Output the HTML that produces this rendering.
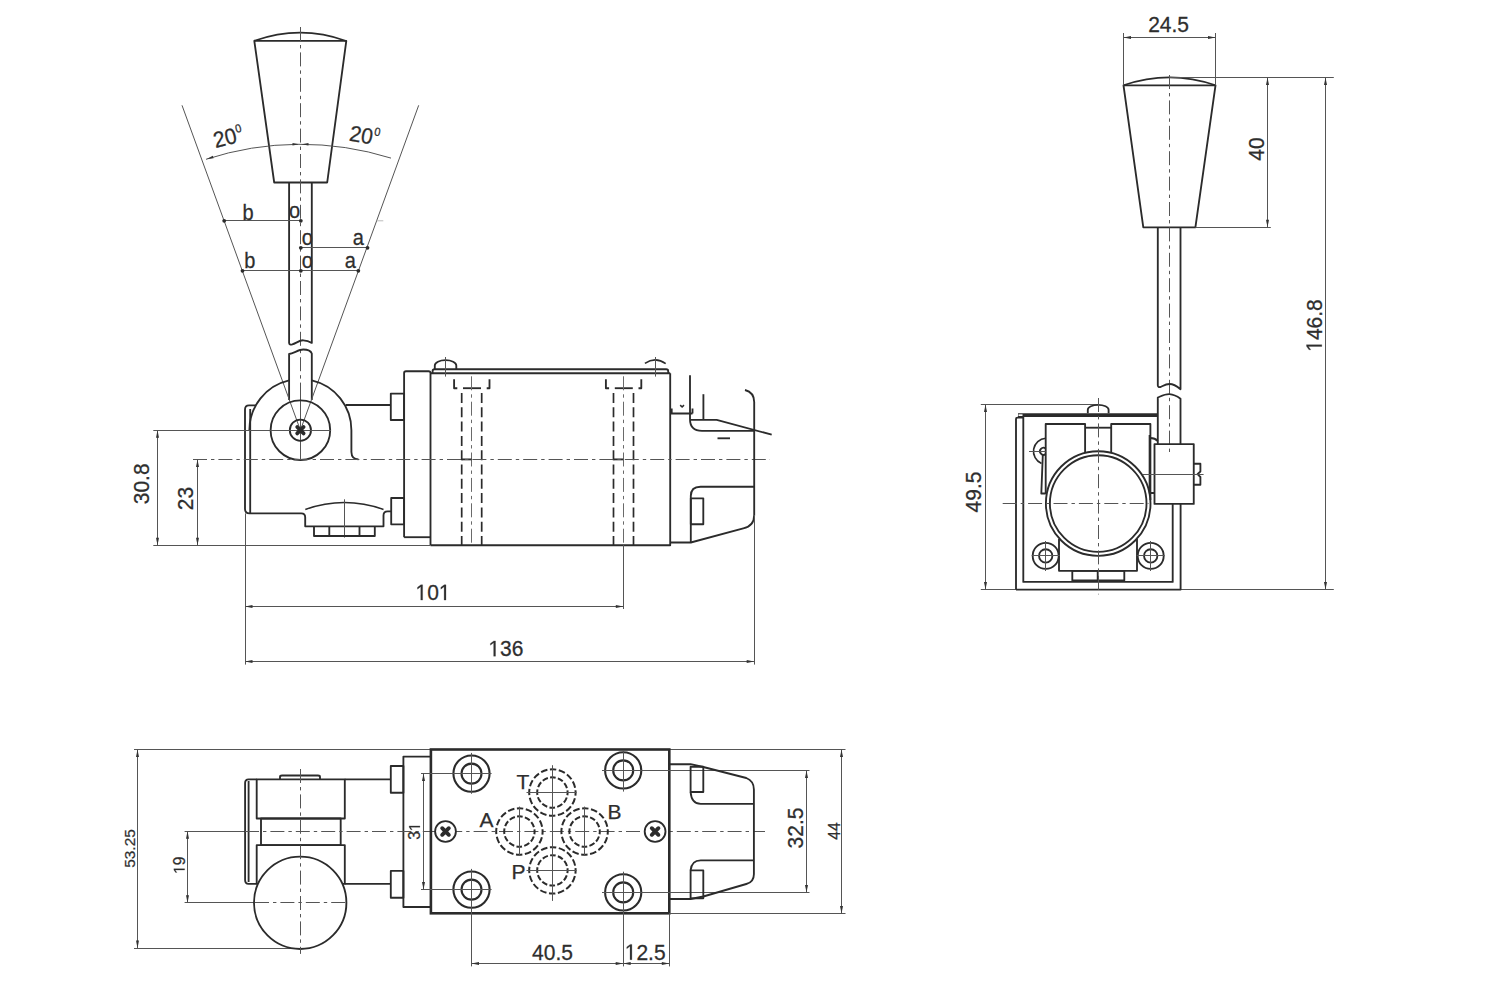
<!DOCTYPE html>
<html><head><meta charset="utf-8"><style>
html,body{margin:0;padding:0;background:#fff;}
body{width:1488px;height:1008px;overflow:hidden;}
svg{display:block;}
.k{fill:none;stroke:#2b2b2b;stroke-width:1.85;stroke-linejoin:round;}
.kf{fill:#fff;stroke:#2b2b2b;stroke-width:1.85;}
.kh{fill:none;stroke:#2b2b2b;stroke-width:2.1;}
.kb{fill:none;stroke:#2b2b2b;stroke-width:2.6;}
.k2{fill:none;stroke:#2b2b2b;stroke-width:1.6;}
.t{fill:none;stroke:#555;stroke-width:1;}
.c{fill:none;stroke:#555;stroke-width:1;stroke-dasharray:14 4 3.4 4;}
.c2{fill:none;stroke:#6a6a6a;stroke-width:1;stroke-dasharray:14 4 3.4 4;}
.h{fill:none;stroke:#2b2b2b;stroke-width:1.7;stroke-dasharray:10 4.3;}
.hp{fill:none;stroke:#2b2b2b;stroke-width:2;}
.hp2{fill:none;stroke:#2b2b2b;stroke-width:1.6;stroke-dasharray:6 3.5;}
.gl{fill:#2e2e2e;stroke:#2e2e2e;stroke-width:0.25;vector-effect:non-scaling-stroke;}
.dot{fill:#2b2b2b;stroke:none;}
.tx{font-family:"Liberation Sans",sans-serif;fill:#2e2e2e;stroke:#2e2e2e;stroke-width:0.25;}
</style></head><body>
<svg width="1488" height="1008" viewBox="0 0 1488 1008">
<rect x="0" y="0" width="1488" height="1008" fill="#fff"/>
<path class="k" d="M254.3,40.8 L346.3,40.9 L327.2,182.5 L274.2,182.5 Z"/>
<path class="k2" d="M254.3,40.8 Q300.3,24.3 346.3,40.9"/>
<path class="c" d="M300.5,27 L300.5,395"/>
<path class="t" d="M300.5,395 L300.5,460"/>
<path class="k" d="M289.1,182.5 V343 Q289.3,345.2 292.3,344.4 C296,343.2 299.5,340.2 303.2,340.3 C307,340.4 309.5,341.4 311.8,342.9 V182.5"/>
<path class="k" d="M289.1,400 V354 C293.5,353.6 298.5,349.5 303.2,349.5 C307,349.5 310.8,350.8 311.8,353.5 V400"/>
<path class="t" d="M300.4,430.2 L182,105.3"/>
<path class="t" d="M300.4,430.2 L418.7,105.3"/>
<path class="t" d="M206,159.3 A304,304 0 0 1 391,158.1"/>
<path fill="#333" stroke="none" d="M206.71,159 L212.78,155.66 L213.58,158.14 Z"/>
<path fill="#333" stroke="none" d="M299.34,144.2 L292.54,145.53 L292.53,142.93 Z"/>
<path fill="#333" stroke="none" d="M301.67,144.2 L308.48,142.93 L308.47,145.53 Z"/>
<path class="t" d="M224.2,220.5 L300.8,220.5"/>
<path class="t" d="M300.8,247.5 L367.5,247.5"/>
<path class="t" d="M242.5,270.5 L358.3,270.5"/>
<path stroke="#bbb" stroke-width="1" d="M376.7,220.8 H383.3"/>
<circle class="dot" cx="224.2" cy="220.8" r="1.9"/>
<circle class="dot" cx="300.8" cy="220.8" r="1.9"/>
<circle class="dot" cx="300.8" cy="247.8" r="1.9"/>
<circle class="dot" cx="367.5" cy="247.8" r="1.9"/>
<circle class="dot" cx="242.5" cy="270.8" r="1.9"/>
<circle class="dot" cx="300.8" cy="270.8" r="1.9"/>
<circle class="dot" cx="358.3" cy="270.8" r="1.9"/>
<text class="tx" transform="translate(248,220) scale(1,1.06)" x="0" y="0" font-size="20" text-anchor="middle">b</text>
<text class="tx" transform="translate(294.5,218.3) scale(1,1.06)" x="0" y="0" font-size="20" text-anchor="middle">o</text>
<text class="tx" transform="translate(307.3,245) scale(1,1.06)" x="0" y="0" font-size="20" text-anchor="middle">o</text>
<text class="tx" transform="translate(358.3,245) scale(1,1.06)" x="0" y="0" font-size="20" text-anchor="middle">a</text>
<text class="tx" transform="translate(249.8,267.5) scale(1,1.06)" x="0" y="0" font-size="20" text-anchor="middle">b</text>
<text class="tx" transform="translate(307.3,268.3) scale(1,1.06)" x="0" y="0" font-size="20" text-anchor="middle">o</text>
<text class="tx" transform="translate(350.4,268.3) scale(1,1.06)" x="0" y="0" font-size="20" text-anchor="middle">a</text>
<text class="tx" transform="translate(215.5,148) rotate(-14) scale(1,1.06)" font-size="21">20<tspan font-size="11" dx="0.5" dy="-9">0</tspan></text>
<text class="tx" transform="translate(348.5,140.5) rotate(10) scale(1,1.06)" font-size="21">20<tspan font-size="11" dx="0.5" dy="-9">0</tspan></text>
<path class="k" d="M249.4,430.2 A51,51 0 0 1 289.1,380.4"/>
<path class="k" d="M311.8,380.4 A51,51 0 0 1 351.4,430.2 V452 Q351.6,459.4 358.5,459.4"/>
<path class="k" d="M256,405.3 H249 Q245,405.3 245,409.5 V509 Q245,513.4 249.5,513.4 H301.3 Q305.2,513.4 305.2,517.5 V526.3 H383.5 V515.5 Q383.5,511.4 387.6,511.4 H391.2"/>
<path class="k" d="M250.2,409 V513.4"/>
<circle class="k" cx="300.4" cy="430.2" r="29.8"/>
<circle class="k" cx="300.4" cy="430.2" r="10.6"/>
<path class="t" d="M153.3,430.5 L331,430.5"/>
<path stroke="#2b2b2b" stroke-width="3.8" stroke-linecap="round" fill="none" d="M297.2,427 L303.6,433.4 M303.6,427 L297.2,433.4"/>
<path class="k" d="M345.8,405 H390.8"/>
<rect class="k" x="390.8" y="393.6" width="13.3" height="26.4"/>
<rect class="k" x="391.2" y="498" width="12.9" height="26.3"/>
<path class="k" d="M404.1,537.2 V373 Q404.1,371.2 406,371.2 H428.6 Q430.5,371.2 430.5,373 V545.2"/>
<path class="k" d="M430.5,373.2 H670.2"/>
<path class="k" d="M432.6,373.2 V371 Q432.6,369.2 434.6,369.2 H666.2 Q668.2,369.2 668.2,371 V373.2"/>
<path class="k" d="M670.2,373.2 V545.2 H430.5"/>
<path class="k" d="M404.1,537.2 H430.5"/>
<path class="k2" d="M305.3,509.4 Q344.4,495.6 383.5,509.4"/>
<path class="t" d="M344.5,499.3 L344.5,537.6"/>
<path class="k" d="M314,526.3 V536 H374.8 V526.3 M329.3,526.3 V536 M359.5,526.3 V536"/>
<path class="k" d="M434.8,369.2 V365.5 A10.75,5.3 0 0 1 456.3,365.5 V369.2"/>
<path class="t" d="M445.5,357 L445.5,376.6"/>
<path class="k2" d="M644.9,363.4 Q655.5,356.3 665.7,363.7"/>
<path class="t" d="M655.5,357 L655.5,376.6"/>
<path class="k" d="M454.1,379.3 V388.2 H457.3"/>
<path class="k" d="M463,388.2 H481"/>
<path class="k" d="M486.7,388.2 H489.5 V379.3"/>
<path class="h" d="M461.7,393 V545"/>
<path class="h" d="M481.7,393 V545"/>
<path class="c2" d="M471.5,376.3 L471.5,545"/>
<path class="k" d="M461.7,459.4 L471.5,459.4"/>
<path class="k" d="M605.9,379.3 V388.2 H609.1"/>
<path class="k" d="M614.8,388.2 H632.8"/>
<path class="k" d="M638.5,388.2 H641.3 V379.3"/>
<path class="h" d="M613.5,393 V545"/>
<path class="h" d="M633.5,393 V545"/>
<path class="c2" d="M623.5,376.3 L623.5,545"/>
<path class="k" d="M613.5,459.4 L623.3,459.4"/>
<path class="t" d="M623.5,545 L623.5,609"/>
<path class="c" d="M193,459.5 L770,459.5"/>
<path class="k" d="M670.2,413.5 H692.5 M671.7,408.6 V413.5 M692.5,408.6 V413.5"/>
<path class="k2" d="M680.2,405.2 L682.1,407 L684,405.2"/>
<path class="k" d="M690,375.3 V419 Q690,430.9 702,430.9 H754.2"/>
<path class="k" d="M703.4,394.2 V419.7"/>
<path class="k" d="M690,419.8 H716.7 L771.7,434.7"/>
<path class="k" d="M717.5,438.3 H730"/>
<path class="k" d="M745,390 Q754.2,392.5 754.2,402 V515 Q754.2,526 743.3,528.3 L690.8,542.5 H670.2"/>
<path class="k" d="M690.8,542.5 V496 Q690.8,486.7 700.5,486.7 H754.2"/>
<rect class="k" x="690.8" y="498.3" width="12.5" height="25.9"/>
<path class="t" d="M245.5,513.4 L245.5,664.6"/>
<path class="t" d="M754.5,515 L754.5,664.6"/>
<path class="t" d="M245,606.5 L623.3,606.5"/>
<path fill="#333" stroke="none" d="M245,606.5 L252.5,605 L252.5,608 Z"/>
<path fill="#333" stroke="none" d="M623.3,606.5 L615.8,608 L615.8,605 Z"/>
<path class="t" d="M245,661.5 L754.2,661.5"/>
<path fill="#333" stroke="none" d="M245,661.5 L252.5,660 L252.5,663 Z"/>
<path fill="#333" stroke="none" d="M754.2,661.5 L746.7,663 L746.7,660 Z"/>
<g transform="translate(433,600.1) scale(1,1.06)"><text class="tx" x="0" y="0" font-size="21" text-anchor="middle">&#x2007;0&#x2007;</text><path class="gl" transform="translate(-17.52,0) scale(0.01025,-0.01025)" d="M515,0 L515,1237 L197,1010 L197,1180 L530,1409 L696,1409 L696,0 Z"/><path class="gl" transform="translate(5.84,0) scale(0.01025,-0.01025)" d="M515,0 L515,1237 L197,1010 L197,1180 L530,1409 L696,1409 L696,0 Z"/></g>
<g transform="translate(505.9,656.2) scale(1,1.06)"><text class="tx" x="0" y="0" font-size="21" text-anchor="middle">&#x2007;36</text><path class="gl" transform="translate(-17.52,0) scale(0.01025,-0.01025)" d="M515,0 L515,1237 L197,1010 L197,1180 L530,1409 L696,1409 L696,0 Z"/></g>
<path class="t" d="M153.3,545.5 L430.5,545.5"/>
<path class="t" d="M157.5,430.2 L157.5,545.2"/>
<path fill="#333" stroke="none" d="M157.5,430.2 L159,437.7 L156,437.7 Z"/>
<path fill="#333" stroke="none" d="M157.5,545.2 L156,537.7 L159,537.7 Z"/>
<path class="t" d="M197.5,459.4 L197.5,545.2"/>
<path fill="#333" stroke="none" d="M197.5,459.4 L199,466.9 L196,466.9 Z"/>
<path fill="#333" stroke="none" d="M197.5,545.2 L196,537.7 L199,537.7 Z"/>
<text class="tx" transform="translate(149.2,483.8) rotate(-90) scale(1,1.06)" x="0" y="0" font-size="21" text-anchor="middle">30.8</text>
<text class="tx" transform="translate(193.3,498.5) rotate(-90) scale(1,1.06)" x="0" y="0" font-size="21" text-anchor="middle">23</text>
<path class="k" d="M1123.5,85.3 L1215.5,85.3 L1195.4,227.3 L1143.3,227.3 Z"/>
<path class="k2" d="M1123.5,85.3 Q1169.5,69.5 1215.5,85.3"/>
<path class="c" d="M1169.5,75 L1169.5,453.5"/>
<path class="k" d="M1157.8,227.3 V385.5 Q1158,387.6 1160.5,387 C1163.5,385.6 1166,384 1169.5,384 C1173.5,384 1177,386.3 1180.5,389.2 V227.3"/>
<path class="k" d="M1157.8,444.1 V397.5 C1161,396.2 1165,394 1169.5,394.2 C1174,394.5 1177,396.2 1180.5,398.8 V444.1"/>
<path class="t" d="M1123.5,33 L1123.5,85.3"/>
<path class="t" d="M1215.5,33 L1215.5,85.3"/>
<path class="t" d="M1123.5,37.5 L1215.5,37.5"/>
<path fill="#333" stroke="none" d="M1123.5,37.5 L1131,36 L1131,39 Z"/>
<path fill="#333" stroke="none" d="M1215.5,37.5 L1208,39 L1208,36 Z"/>
<text class="tx" transform="translate(1168.6,32.4) scale(1,1.06)" x="0" y="0" font-size="21" text-anchor="middle">24.5</text>
<path class="t" d="M1169.3,77.5 L1333.8,77.5"/>
<path class="t" d="M1195.4,227.5 L1270.8,227.5"/>
<path class="t" d="M1267.5,77.4 L1267.5,227.3"/>
<path fill="#333" stroke="none" d="M1267.5,77.4 L1269,84.9 L1266,84.9 Z"/>
<path fill="#333" stroke="none" d="M1267.5,227.3 L1266,219.8 L1269,219.8 Z"/>
<path class="t" d="M1325.5,77.4 L1325.5,589.6"/>
<path fill="#333" stroke="none" d="M1325.5,77.4 L1327,84.9 L1324,84.9 Z"/>
<path fill="#333" stroke="none" d="M1325.5,589.6 L1324,582.1 L1327,582.1 Z"/>
<text class="tx" transform="translate(1263.9,149) rotate(-90) scale(1,1.06)" x="0" y="0" font-size="21" text-anchor="middle">40</text>
<g transform="translate(1321.8,325.5) rotate(-90) scale(1,1.06)"><text class="tx" x="0" y="0" font-size="21" text-anchor="middle">&#x2007;46.8</text><path class="gl" transform="translate(-26.28,0) scale(0.01025,-0.01025)" d="M515,0 L515,1237 L197,1010 L197,1180 L530,1409 L696,1409 L696,0 Z"/></g>
<path class="t" d="M980.8,404.5 L1098,404.5"/>
<path class="t" d="M980.8,589.5 L1333.8,589.5"/>
<path class="t" d="M985.5,404.5 L985.5,589.6"/>
<path fill="#333" stroke="none" d="M985.5,404.5 L987,412 L984,412 Z"/>
<path fill="#333" stroke="none" d="M985.5,589.6 L984,582.1 L987,582.1 Z"/>
<text class="tx" transform="translate(980.8,492) rotate(-90) scale(1,1.06)" x="0" y="0" font-size="21" text-anchor="middle">49.5</text>
<path class="k" d="M1016,589.6 V419 Q1016,417.6 1017.4,417.6 H1023.3 M1016,589.6 H1180.6 V504"/>
<path fill="#2b2b2b" stroke="none" d="M1018,413.2 H1157.8 V417 H1018 Z"/>
<path fill="#fff" stroke="none" d="M1018.5,414.3 H1022.5 V416 H1018.5 Z"/>
<path class="k" d="M1023.3,417 V581.9 H1172.7 V504"/>
<path class="k" d="M1087.8,413.3 V409.8 A10.4,5 0 0 1 1108.6,409.8 V413.3"/>
<path class="k" d="M1045.7,494 V424 H1085.1 V452"/>
<path class="k" d="M1085.1,427.7 H1111.2"/>
<path class="k" d="M1111.2,452 V424 H1150.4 V500"/>
<circle class="k" cx="1098.2" cy="503.5" r="52.3"/>
<circle class="k" cx="1098.2" cy="503.5" r="48.3"/>
<path class="k2" d="M1045.7,438.2 A13.2,13.2 0 0 0 1041.5,463.5"/>
<path class="k" d="M1045.7,448.6 A3.5,3.5 0 1 0 1045.7,454"/>
<path class="t" d="M1029,451.5 L1045.7,451.5"/>
<path class="k" d="M1042.8,455 L1041.3,493.5 H1045.7"/>
<path class="k" d="M1059,539 V570.8 H1137 V539"/>
<rect class="k" x="1072.3" y="570.8" width="52" height="9.7"/>
<path class="k" d="M1097.7,570.8 V580.5"/>
<circle class="k" cx="1045.7" cy="555.9" r="13"/>
<circle class="k" cx="1045.7" cy="555.9" r="6.65"/>
<path class="t" d="M1031.7,555.5 L1059.7,555.5"/>
<path class="t" d="M1045.5,541 L1045.5,571"/>
<circle class="k" cx="1150.7" cy="555.9" r="13"/>
<circle class="k" cx="1150.7" cy="555.9" r="6.65"/>
<path class="t" d="M1136.7,555.5 L1164.7,555.5"/>
<path class="t" d="M1150.5,541 L1150.5,571"/>
<rect class="k" x="1154.5" y="444.1" width="39.25" height="59.8"/>
<path class="k" d="M1149.6,435 V493 H1154.5"/>
<path class="k" d="M1150.4,438 Q1155,438 1157.8,441"/>
<path class="k" d="M1193.75,463.75 H1200.4 V471.5 L1197.5,474.2 L1200.4,477 V484.7 H1193.75"/>
<path class="t" d="M1142.9,474.5 L1203.6,474.5"/>
<path class="c" d="M1002.7,503.5 L1148.5,503.5"/>
<path class="c" d="M1098.5,398 L1098.5,594.4"/>
<path class="t" d="M134,749.5 L845.5,749.5"/>
<path class="t" d="M134,948.5 L292,948.5"/>
<path class="t" d="M137.5,749.5 L137.5,948"/>
<path fill="#333" stroke="none" d="M137.5,749.5 L139,757 L136,757 Z"/>
<path fill="#333" stroke="none" d="M137.5,948 L136,940.5 L139,940.5 Z"/>
<text class="tx" transform="translate(134.6,848.5) rotate(-90) scale(1,1)" x="0" y="0" font-size="15.4" text-anchor="middle">53.25</text>
<path class="t" d="M184.6,831.5 L245,831.5"/>
<path class="t" d="M184.6,902.5 L255,902.5"/>
<path class="t" d="M187.5,831.2 L187.5,902.8"/>
<path fill="#333" stroke="none" d="M187.5,831.2 L189,838.7 L186,838.7 Z"/>
<path fill="#333" stroke="none" d="M187.5,902.8 L186,895.3 L189,895.3 Z"/>
<g transform="translate(184.6,865.3) rotate(-90) scale(1,1)"><text class="tx" x="0" y="0" font-size="15.6" text-anchor="middle">&#x2007;9</text><path class="gl" transform="translate(-8.68,0) scale(0.00762,-0.00762)" d="M515,0 L515,1237 L197,1010 L197,1180 L530,1409 L696,1409 L696,0 Z"/></g>
<path class="k" d="M256.7,779.3 H248.6 Q245.1,779.3 245.1,783 V880 Q245.1,883.8 248.6,883.8 H256.7"/>
<path class="k" d="M248.6,781 V882"/>
<rect class="k" x="256.7" y="779.3" width="88.1" height="39.2"/>
<rect class="k" x="261" y="818.5" width="79.7" height="26.6"/>
<rect class="k" x="256.7" y="845.1" width="88.1" height="38.7"/>
<path class="k" d="M280,779.3 V777 Q280,775.5 282,775.5 H318 Q320,775.5 320,777 V779.3"/>
<path class="k" d="M344.8,779.3 H390.8 M344.8,883.8 H390.8"/>
<rect class="k" x="390.8" y="766" width="12.6" height="26.7"/>
<rect class="k" x="390.8" y="870.9" width="12.6" height="26.8"/>
<rect class="k" x="403.4" y="756.6" width="27.5" height="150.4"/>
<circle class="kf" cx="300.2" cy="902.8" r="46.2"/>
<path class="c" d="M300.5,769 L300.5,953.9"/>
<path class="c" d="M255,902.5 L349,902.5"/>
<path class="c" d="M245,831.5 L765,831.5"/>
<rect class="kb" x="430.9" y="749.5" width="238.4" height="163.8"/>
<circle class="kh" cx="471.5" cy="773.6" r="18.1"/>
<circle class="kh" cx="471.5" cy="773.6" r="10"/>
<circle class="kh" cx="623.2" cy="770.4" r="18.1"/>
<circle class="kh" cx="623.2" cy="770.4" r="10"/>
<circle class="kh" cx="471.5" cy="889.6" r="18.1"/>
<circle class="kh" cx="471.5" cy="889.6" r="10"/>
<circle class="kh" cx="623.2" cy="892.4" r="18.1"/>
<circle class="kh" cx="623.2" cy="892.4" r="10"/>
<path class="t" d="M421,773.5 L491.6,773.5"/>
<path class="t" d="M421,889.5 L491.6,889.5"/>
<path class="t" d="M471.5,752.9 L471.5,793.8"/>
<path class="t" d="M471.5,868.9 L471.5,966.4"/>
<path class="t" d="M602,770.5 L809.5,770.5"/>
<path class="t" d="M602,892.5 L809.5,892.5"/>
<path class="t" d="M623.5,751 L623.5,791.6"/>
<path class="t" d="M623.5,871.7 L623.5,966.4"/>
<circle class="hp" cx="552.4" cy="792.5" r="23.2" stroke-dasharray="6.56 2.55" stroke-dashoffset="3.28"/>
<circle class="hp" cx="552.4" cy="792.5" r="15.2" stroke-dasharray="5.73 2.23" stroke-dashoffset="2.87"/>
<circle class="hp" cx="519.4" cy="831.5" r="23.2" stroke-dasharray="6.56 2.55" stroke-dashoffset="3.28"/>
<circle class="hp" cx="519.4" cy="831.5" r="15.2" stroke-dasharray="5.73 2.23" stroke-dashoffset="2.87"/>
<circle class="hp" cx="584.6" cy="831.5" r="23.2" stroke-dasharray="6.56 2.55" stroke-dashoffset="3.28"/>
<circle class="hp" cx="584.6" cy="831.5" r="15.2" stroke-dasharray="5.73 2.23" stroke-dashoffset="2.87"/>
<circle class="hp" cx="552.4" cy="870.4" r="23.2" stroke-dasharray="6.56 2.55" stroke-dashoffset="3.28"/>
<circle class="hp" cx="552.4" cy="870.4" r="15.2" stroke-dasharray="5.73 2.23" stroke-dashoffset="2.87"/>
<path class="t" d="M552.5,765.2 L552.5,900.9"/>
<path class="t" d="M526.5,792.5 L576.5,792.5"/>
<path class="t" d="M526.5,870.5 L576.5,870.5"/>
<path class="t" d="M519.5,806.6 L519.5,855.7"/>
<path class="t" d="M584.5,806.6 L584.5,855.7"/>
<circle class="kf" cx="445.5" cy="831.5" r="10.4"/>
<path stroke="#2b2b2b" stroke-width="3.9" stroke-linecap="round" fill="none" d="M442.2,828.2 L448.8,834.8 M448.8,828.2 L442.2,834.8"/>
<circle class="kf" cx="655.1" cy="831.5" r="10.4"/>
<path stroke="#2b2b2b" stroke-width="3.9" stroke-linecap="round" fill="none" d="M651.8,828.2 L658.4,834.8 M658.4,828.2 L651.8,834.8"/>
<text class="tx" transform="translate(523,788.8) scale(1,1)" x="0" y="0" font-size="21" text-anchor="middle">T</text>
<text class="tx" transform="translate(486.4,826.8) scale(1,1)" x="0" y="0" font-size="21" text-anchor="middle">A</text>
<text class="tx" transform="translate(614.5,819.4) scale(1,1)" x="0" y="0" font-size="21" text-anchor="middle">B</text>
<text class="tx" transform="translate(518.6,878.9) scale(1,1)" x="0" y="0" font-size="21" text-anchor="middle">P</text>
<path class="t" d="M423.5,773.6 L423.5,889.6"/>
<path fill="#333" stroke="none" d="M423.5,773.6 L425,781.1 L422,781.1 Z"/>
<path fill="#333" stroke="none" d="M423.5,889.6 L422,882.1 L425,882.1 Z"/>
<g transform="translate(419.9,831.2) rotate(-90) scale(1,1)"><text class="tx" x="0" y="0" font-size="15.6" text-anchor="middle">3&#x2007;</text><path class="gl" transform="translate(0,0) scale(0.00762,-0.00762)" d="M515,0 L515,1237 L197,1010 L197,1180 L530,1409 L696,1409 L696,0 Z"/></g>
<path class="k" d="M669.3,764.2 H690.6 L703.3,767 L746.3,778 Q753.9,781 753.9,789.5 V874.2 Q753.9,882 746.3,884 L703.3,896.5 L690.6,899 H669.3"/>
<rect class="k" x="690.6" y="766.7" width="12.7" height="25.3"/>
<rect class="k" x="690.6" y="870.4" width="12.7" height="27.9"/>
<path class="k" d="M690.6,792 Q691.5,803.9 700.7,803.9 H753.9"/>
<path class="k" d="M690.6,870.4 Q691.5,860.3 700.7,860.3 H753.9"/>
<path class="t" d="M669.3,913.5 L845.5,913.5"/>
<path class="t" d="M806.5,770.4 L806.5,892.4"/>
<path fill="#333" stroke="none" d="M806.5,770.4 L808,777.9 L805,777.9 Z"/>
<path fill="#333" stroke="none" d="M806.5,892.4 L805,884.9 L808,884.9 Z"/>
<path class="t" d="M841.5,749.5 L841.5,913.5"/>
<path fill="#333" stroke="none" d="M841.5,749.5 L843,757 L840,757 Z"/>
<path fill="#333" stroke="none" d="M841.5,913.5 L840,906 L843,906 Z"/>
<text class="tx" transform="translate(803.2,828) rotate(-90) scale(1,1.06)" x="0" y="0" font-size="21" text-anchor="middle">32.5</text>
<text class="tx" transform="translate(839.9,831) rotate(-90) scale(1,1)" x="0" y="0" font-size="15.6" text-anchor="middle">44</text>
<path class="t" d="M669.5,913.5 L669.5,966.4"/>
<path class="t" d="M471.5,963.5 L623.2,963.5"/>
<path fill="#333" stroke="none" d="M471.5,963.5 L479,962 L479,965 Z"/>
<path fill="#333" stroke="none" d="M623.2,963.5 L615.7,965 L615.7,962 Z"/>
<path class="t" d="M623.2,963.5 L669.3,963.5"/>
<path fill="#333" stroke="none" d="M623.2,963.5 L630.7,962 L630.7,965 Z"/>
<path fill="#333" stroke="none" d="M669.3,963.5 L661.8,965 L661.8,962 Z"/>
<text class="tx" transform="translate(552.5,959.7) scale(1,1.06)" x="0" y="0" font-size="21" text-anchor="middle">40.5</text>
<g transform="translate(645.2,959.7) scale(1,1.06)"><text class="tx" x="0" y="0" font-size="21" text-anchor="middle">&#x2007;2.5</text><path class="gl" transform="translate(-20.44,0) scale(0.01025,-0.01025)" d="M515,0 L515,1237 L197,1010 L197,1180 L530,1409 L696,1409 L696,0 Z"/></g>
</svg>
</body></html>
